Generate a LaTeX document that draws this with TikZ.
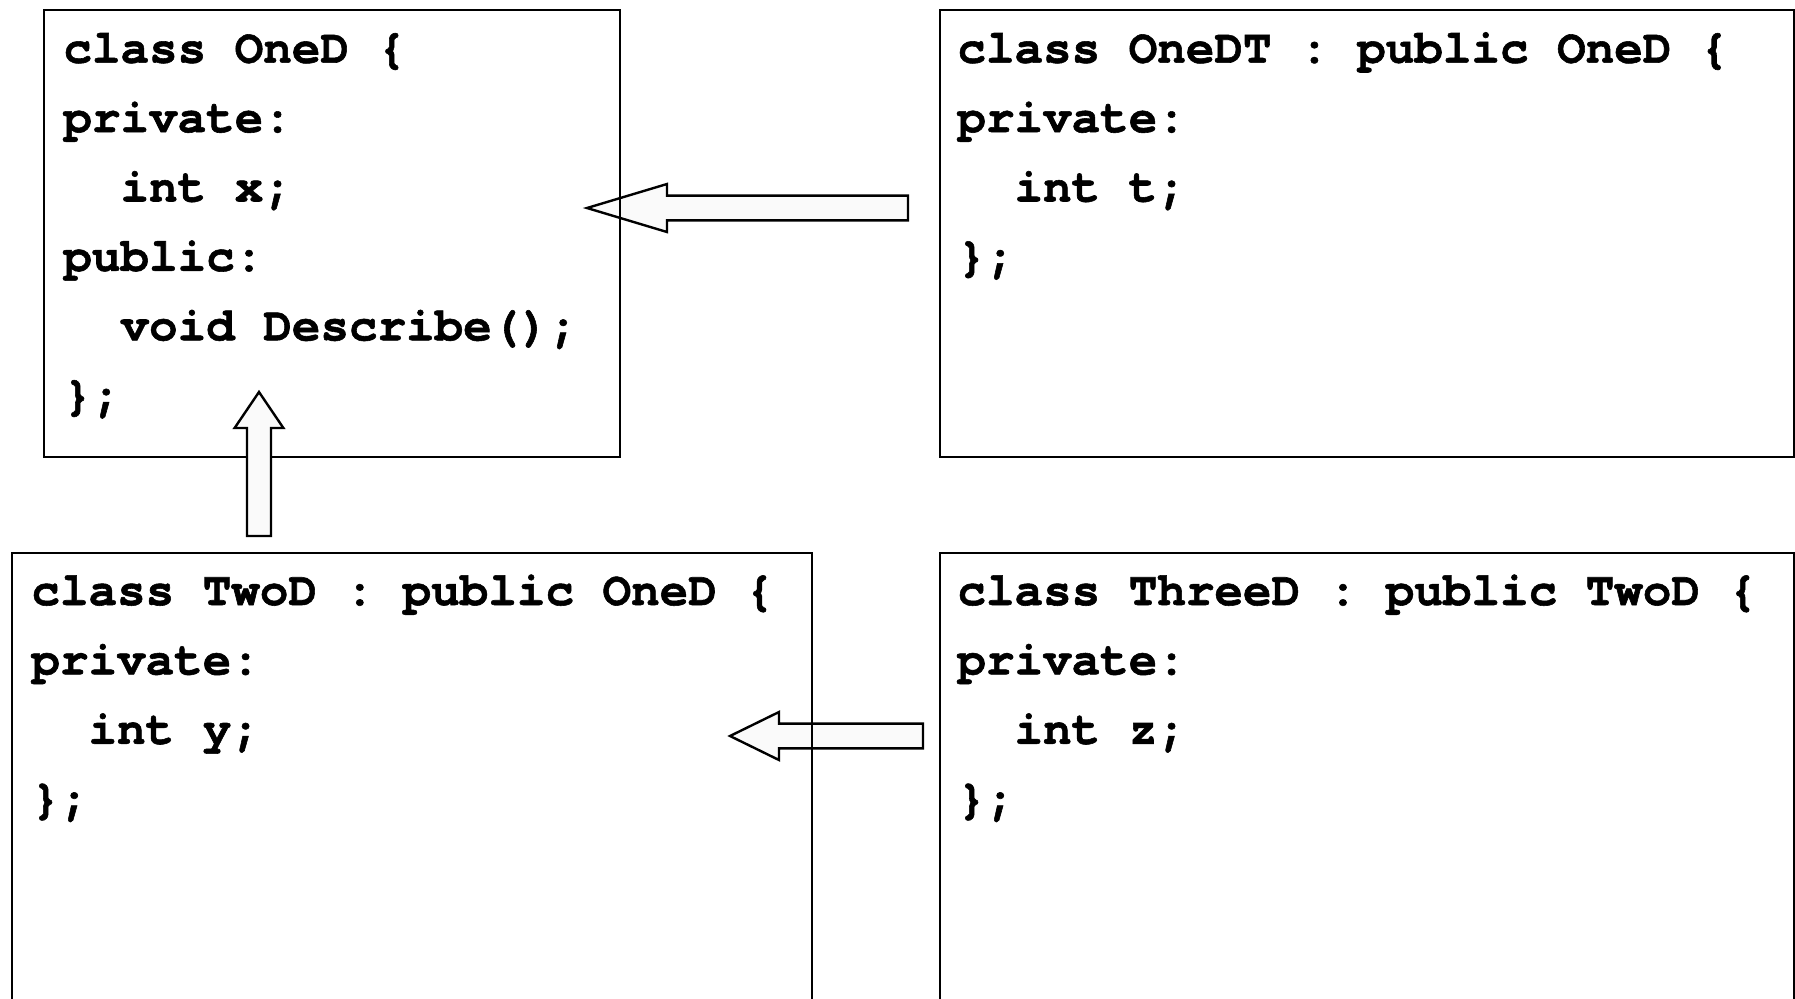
\documentclass[tikz,border=0pt]{standalone}
\usepackage{fontspec}
\newfontfamily\codefont{texgyrecursor-bold.otf}[FakeBold=1.2]
\usetikzlibrary{calc}

\newcommand{\ind}{\hphantom{xx}}
% hollow inheritance arrows: #1 tail, #2 tip, #3 head length
\newcommand{\leftinh}[3]{%
  \draw[inharrow] let \p1=(#2), \p2=(#1) in
    (\p1) -- (\x1+#3,\y1+12pt) -- (\x1+#3,\y1+6.2pt) -- (\x2,\y1+6.2pt)
    -- (\x2,\y1-6.2pt) -- (\x1+#3,\y1-6.2pt) -- (\x1+#3,\y1-12pt) -- cycle;}
\newcommand{\upinh}[3]{%
  \draw[inharrow] let \p1=(#2), \p2=(#1) in
    (\p1) -- (\x1+12.2pt,\y1-#3) -- (\x1+6pt,\y1-#3) -- (\x1+6pt,\y2)
    -- (\x1-6pt,\y2) -- (\x1-6pt,\y1-#3) -- (\x1-12.2pt,\y1-#3) -- cycle;}

\tikzset{
  classbox/.style={draw, line width=1pt, inner sep=0pt, anchor=north west},
  codeline/.style={anchor=base west, inner sep=0pt,
    font=\codefont\fontsize{23.8pt}{34.7pt}\selectfont},
  inharrow/.style={draw, line width=1.2pt, fill=black!2, line join=miter},
}

\begin{document}
\begin{tikzpicture}[x=0.5pt, y=-0.5pt]
  \clip (0,0) rectangle (1795,998);

  % arrows lying under the box edges
  \coordinate (dtTail) at (908,208);
  \coordinate (dtTip) at (587,208);
  \coordinate (thTail) at (923,736);
  \coordinate (thTip) at (730,736);
  \leftinh{dtTail}{dtTip}{40pt}
  \leftinh{thTail}{thTip}{24.5pt}

  % class boxes
  \node[classbox, minimum width=288pt, minimum height=223.5pt] (oned) at (43,9) {};
  \node[classbox, minimum width=427pt, minimum height=223.5pt] (onedt) at (939,9) {};
  \node[classbox, minimum width=400pt, minimum height=240pt] (twod) at (11,552) {};
  \node[classbox, minimum width=427pt, minimum height=240pt] (threed) at (939,552) {};

  % code
  \foreach \txt [count=\k from 0] in {class OneD \{, private:, \ind int x;,
      public:, \ind void Describe();, \};}
    \node[codeline] (oned-\k) at ($(oned.north west)+(20,{53.7+69.4*\k})$) {\txt};
  \foreach \txt [count=\k from 0] in {class OneDT : public OneD \{, private:,
      \ind int t;, \};}
    \node[codeline] (onedt-\k) at ($(onedt.north west)+(18,{53.7+69.4*\k})$) {\txt};
  \foreach \txt [count=\k from 0] in {class TwoD : public OneD \{, private:,
      \ind int y;, \};}
    \node[codeline] (twod-\k) at ($(twod.north west)+(20,{53+69.4*\k})$) {\txt};
  \foreach \txt [count=\k from 0] in {class ThreeD : public TwoD \{, private:,
      \ind int z;, \};}
    \node[codeline] (threed-\k) at ($(threed.north west)+(18,{53+69.4*\k})$) {\txt};

  % arrow over the box edge
  \coordinate (twTail) at (259,536);
  \coordinate (twTip) at (259,392);
  \upinh{twTail}{twTip}{18pt}
\end{tikzpicture}
\end{document}
